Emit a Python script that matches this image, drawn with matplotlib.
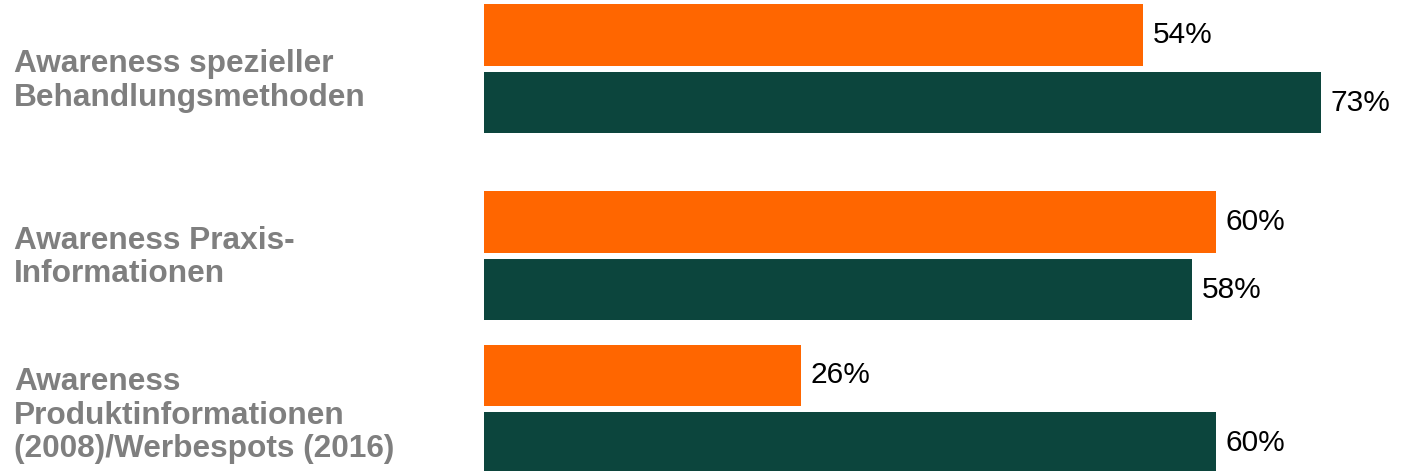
import numpy as np
import matplotlib.pyplot as plt

# data
categories = ["Awareness spezieller\nBehandlungsmethoden",
              "Awareness Praxis-\nInformationen",
              "Awareness\nProduktinformationen\n(2008)/Werbespots (2016)"]
values_orange = [54, 60, 26]
values_green = [73, 58, 60]

plt.rcParams['font.family'] = ['Liberation Sans', 'DejaVu Sans']

fig = plt.figure(figsize=(14.01, 4.71), dpi=100)
ax = fig.add_axes([484 / 1401, 0, 837 / 1401, 1])

xmax = 68.6
group_y = np.array([0.0, 0.995, 1.81])
label_dy = [0.067, 0.009, 0.035]
off = 0.18
h = 0.325

ax.barh(group_y - off, values_orange, height=h, color='#FF6600')
ax.barh(group_y + off, values_green, height=h, color='#0C453D')

ax.set_xlim(0, xmax)
ax.set_ylim(2.14, -0.366)
ax.axis('off')

# value labels (bars longer than the axis are cut at its edge)
for ys, vals in ((group_y - off, values_orange), (group_y + off, values_green)):
    for y, v in zip(ys, vals):
        ax.text(min(v, xmax) + 0.8, y, f"{v}%", va='center', ha='left',
                fontsize=21.5, color='black', clip_on=False)

# category labels
for y, dy, cat in zip(group_y, label_dy, categories):
    ax.text(-470 / 12.2, y + dy, cat, va='center', ha='left',
            fontsize=22.8, fontweight='bold', color='#7F7F7F', clip_on=False,
            linespacing=1.17)

fig.savefig('out.png', dpi=100)
